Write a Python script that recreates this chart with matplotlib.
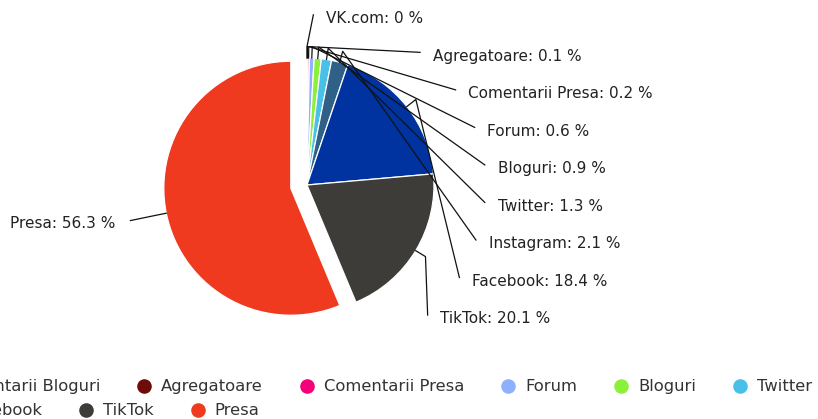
import matplotlib
matplotlib.use("Agg")
import matplotlib.pyplot as plt
import numpy as np

# data
categories = ["VK.com", "Comentarii Bloguri", "Agregatoare", "Comentarii Presa", "Forum",
              "Bloguri", "Twitter", "Instagram", "Facebook", "TikTok", "Presa"]
shares = [0.0, 0.0, 0.1, 0.2, 0.6, 0.9, 1.3, 2.1, 18.4, 20.1, 56.3]
colors = ["#9b59b6", "#6a1b1b", "#6e0b0b", "#f5007a", "#8fb0ff", "#8cf03a",
          "#48c0e8", "#2f6088", "#0033a0", "#3e3c38", "#f03a1f"]
labelled = ["VK.com", "Agregatoare", "Comentarii Presa", "Forum", "Bloguri",
            "Twitter", "Instagram", "Facebook", "TikTok", "Presa"]
legend_rows = [["Comentarii Bloguri", "Agregatoare", "Comentarii Presa", "Forum",
                "Bloguri", "Twitter", "Instagram", "VK.com"],
               ["Facebook", "TikTok", "Presa"]]

W, H = 818, 419
CX, CY, R = 307, 185, 127  # pie centre / radius in pixels
TXT = "#222222"
FS = 11

fig = plt.figure(figsize=(W / 100, H / 100), dpi=100)
ax = fig.add_axes([0, 0, 1, 1])

explode = [0.13 if c == "Presa" else 0 for c in categories]
wedges, _ = ax.pie(shares, colors=colors, startangle=90, counterclock=False,
                   explode=explode, radius=1,
                   wedgeprops=dict(edgecolor="white", linewidth=0.9))
ax.set_xlim(-CX / R, (W - CX) / R)
ax.set_ylim((CY - H) / R, CY / R)
ax.set_aspect("equal")
ax.axis("off")

# label layout (text anchor, data units)
right_x = [0.15, 0.99, 1.27, 1.42, 1.50, 1.50, 1.43, 1.30, 1.05]
right_y = [1.31 - 0.2955 * i for i in range(9)]

ri = 0
for name, val, w in zip(categories, shares, wedges):
    if name not in labelled:
        continue
    mid = np.deg2rad((w.theta1 + w.theta2) / 2)
    cx, cy = w.center
    p0 = (cx + np.cos(mid), cy + np.sin(mid))
    p1 = (cx + 1.09 * np.cos(mid), cy + 1.09 * np.sin(mid))
    txt = f"{name}: {val:g} %"
    if name == "Presa":
        tx, ty = -1.51, -0.30
        ax.text(tx, ty, txt, ha="right", va="center", fontsize=FS, color=TXT)
        end = (-1.39, -0.28)
    else:
        tx, ty = right_x[ri], right_y[ri]
        ri += 1
        end = (tx - 0.10, ty + 0.03)
        ax.text(tx, ty, txt, ha="left", va="center", fontsize=FS, color=TXT)
    ax.plot([p0[0], p1[0], end[0]], [p0[1], p1[1], end[1]],
            color="#111111", lw=0.9, solid_joinstyle="round")

# legend, flow layout in pixel coordinates (rows clipped by the figure edge)
lax = fig.add_axes([0, 0, 1, 1])
lax.set_xlim(0, W)
lax.set_ylim(H, 0)
lax.axis("off")
renderer = fig.canvas.get_renderer()
cmap = dict(zip(categories, colors))
lfont = dict(fontsize=11.8, family="DejaVu Sans", color="#333333")
for row, y, first_end in zip(legend_rows, [386, 410], [100, 42]):
    t = lax.text(0, 0, row[0], **lfont)
    x = first_end - t.get_window_extent(renderer).width - 17
    t.remove()
    for name in row:
        lax.plot(x, y, "o", ms=10.5, color=cmap[name], mec="none")
        t = lax.text(x + 17, y, name, ha="left", va="center", **lfont)
        x += 17 + t.get_window_extent(renderer).width + 44

fig.savefig("out.png", dpi=100)
